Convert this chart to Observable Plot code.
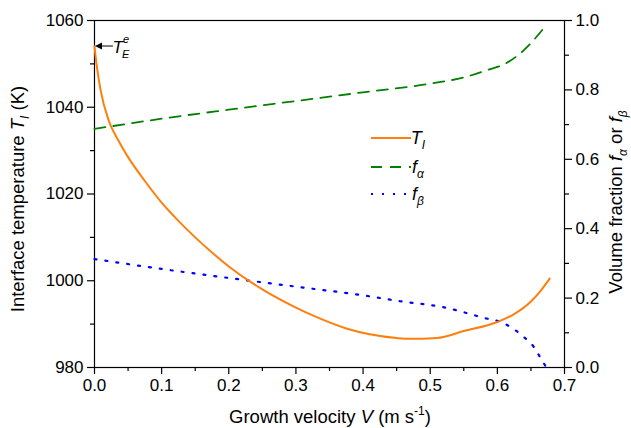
<!DOCTYPE html>
<html><head><meta charset="utf-8">
<script src="https://cdn.jsdelivr.net/npm/d3@7"></script>
<script src="https://cdn.jsdelivr.net/npm/@observablehq/plot@0.6"></script>
<style>
body{margin:0;background:#fff}
svg{font-family:"Liberation Sans",Arial,sans-serif}
</style>
</head><body><div id="chart"></div>
<script>
// Interface temperature T_I (K) vs growth velocity V (m/s)
const velocityT = [0, 0.003, 0.009, 0.021, 0.035, 0.05, 0.075, 0.1, 0.125, 0.15, 0.175, 0.2, 0.25, 0.3, 0.325, 0.375, 0.45, 0.47, 0.51, 0.55, 0.6, 0.625, 0.65, 0.665, 0.678];
const tempT     = [1054, 1050, 1044, 1037, 1032.5, 1028.5, 1023, 1018, 1013.8, 1010, 1006.5, 1003.3, 998, 993.8, 992, 989, 986.8, 986.6, 986.8, 988.4, 990.5, 992.3, 995.2, 997.8, 1000.5];
// Volume fraction f_alpha
const velocityA = [0, 0.1, 0.2, 0.3, 0.4, 0.5, 0.55, 0.586, 0.61, 0.634, 0.65, 0.668];
const fAlpha    = [0.6875, 0.717, 0.743, 0.768, 0.793, 0.818, 0.836, 0.858, 0.874, 0.905, 0.935, 0.975];
// Volume fraction f_beta
const velocityB = [0, 0.1, 0.2, 0.3, 0.4, 0.455, 0.519, 0.578, 0.61, 0.64, 0.654, 0.663, 0.673];
const fBeta     = [0.3125, 0.284, 0.258, 0.233, 0.208, 0.191, 0.174, 0.144, 0.127, 0.087, 0.06, 0.032, 0];
// Ticks
const xTicks = [0, 0.1, 0.2, 0.3, 0.4, 0.5, 0.6, 0.7];
const xMinor = [0.05, 0.15, 0.25, 0.35, 0.45, 0.55, 0.65];
const leftTicks = [980, 1000, 1020, 1040, 1060];
const leftMinor = [990, 1010, 1030, 1050];
const rightTicks = [0, 0.2, 0.4, 0.6, 0.8, 1.0];
const rightMinor = [0.1, 0.3, 0.5, 0.7, 0.9];
const eutecticT = 1054;

const T0 = 980, T1 = 1060;
const toLeft = f => T0 + f * (T1 - T0);
const fromLeft = t => (t - T0) / (T1 - T0);

const orange = "#ff7f0e", green = "#008000", blue = "#0000ff";

const plot = Plot.plot({
  width: 631, height: 428,
  marginLeft: 94, marginRight: 67, marginTop: 20, marginBottom: 61,
  style: {fontFamily: "Liberation Sans, Arial, sans-serif", fontSize: "17px", color: "#000", background: "#fff"},
  x: {domain: [0, 0.7]},
  y: {domain: [T0, T1]},
  marks: [
    Plot.frame({stroke: "#000", strokeWidth: 1.2}),
    Plot.axisX(xTicks, {anchor: "bottom", tickSize: 7, tickPadding: 4, strokeWidth: 1.2, tickFormat: d => d.toFixed(1), label: null, fontSize: 17}),
    Plot.axisX(xMinor, {anchor: "bottom", tickSize: 4, strokeWidth: 1.2, tickFormat: () => "", label: null}),
    Plot.axisY(leftTicks, {anchor: "left", tickSize: 7, tickPadding: 4, strokeWidth: 1.2, tickFormat: d => String(d), label: null, fontSize: 17}),
    Plot.axisY(leftMinor, {anchor: "left", tickSize: 4, strokeWidth: 1.2, tickFormat: () => "", label: null}),
    Plot.axisY(rightTicks.map(toLeft), {anchor: "right", tickSize: 7, tickPadding: 4, strokeWidth: 1.2, tickFormat: v => fromLeft(v).toFixed(1), label: null, fontSize: 17}),
    Plot.axisY(rightMinor.map(toLeft), {anchor: "right", tickSize: 4, strokeWidth: 1.2, tickFormat: () => "", label: null}),
    Plot.line(d3.range(velocityA.length), {x: i => velocityA[i], y: i => toLeft(fAlpha[i]), stroke: green, strokeWidth: 1.8, strokeDasharray: "11,8", curve: "monotone-x"}),
    Plot.line(d3.range(velocityB.length), {x: i => velocityB[i], y: i => toLeft(fBeta[i]), stroke: blue, strokeWidth: 2.2, strokeDasharray: "2,9", curve: "monotone-x"}),
    Plot.line(d3.range(velocityT.length), {x: i => velocityT[i], y: i => tempT[i], stroke: orange, strokeWidth: 2, curve: "monotone-x"})
  ]
});
document.getElementById("chart").appendChild(plot);

const svg = d3.select(plot);
const xs = plot.scale("x"), ys = plot.scale("y");
const FONT = "Liberation Sans, Arial, sans-serif";

function rich(g, parts, size) {
  const t = g.append("text").attr("font-family", FONT).attr("font-size", size).attr("fill", "#000");
  parts.forEach(p => {
    const s = t.append("tspan").text(p.t);
    if (p.i) s.attr("font-style", "italic");
    if (p.dy) s.attr("dy", p.dy);
    if (p.fs) s.attr("font-size", p.fs);
    if (p.dx) s.attr("dx", p.dx);
  });
  return t;
}

// X axis title
rich(svg.append("g").attr("transform", "translate(330,423)"), [
  {t: "Growth velocity "}, {t: "V", i: true}, {t: " (m s"}, {t: "-1", fs: 12, dy: -8}, {t: ")", dy: 8}
], 18.5).attr("text-anchor", "middle");

// Left axis title
rich(svg.append("g").attr("transform", "translate(24,199) rotate(-90)"), [
  {t: "Interface temperature "}, {t: "T", i: true}, {t: "I", i: true, fs: 12, dy: 5}, {t: " (K)", dy: -5}
], 18.5).attr("text-anchor", "middle");

// Right axis title
rich(svg.append("g").attr("transform", "translate(622,202) rotate(-90)"), [
  {t: "Volume fraction "}, {t: "f", i: true}, {t: "α", i: true, fs: 12, dy: 5}, {t: " or ", dy: -5}, {t: "f", i: true}, {t: "β", i: true, fs: 12, dy: 5}
], 18.5).attr("text-anchor", "middle");

// Eutectic temperature marker
const yE = ys.apply(eutecticT), x0 = xs.apply(0);
svg.append("line").attr("x1", x0 + 6).attr("x2", x0 + 19).attr("y1", yE).attr("y2", yE).attr("stroke", "#000").attr("stroke-width", 1);
svg.append("path").attr("d", `M${x0 + 1},${yE} L${x0 + 8},${yE - 3.5} L${x0 + 8},${yE + 3.5} Z`).attr("fill", "#000");
rich(svg.append("g").attr("transform", `translate(${x0 + 27},${yE + 7})`), [
  {t: "T", i: true}, {t: "e", i: true, fs: 11, dy: -10, dx: 0}, {t: "E", i: true, fs: 11, dy: 15, dx: -7}
], 17);

// Legend
const lg = svg.append("g").attr("transform", "translate(371,0)");
const items = [
  {y: 138, c: orange, dash: null, w: 2, parts: [{t: "T", i: true}, {t: "I", i: true, fs: 12, dy: 5}]},
  {y: 167, c: green, dash: "11,8", w: 1.8, parts: [{t: "f", i: true}, {t: "α", i: true, fs: 12, dy: 5}]},
  {y: 194, c: blue, dash: "2,9", w: 2.2, parts: [{t: "f", i: true}, {t: "β", i: true, fs: 12, dy: 5}]}
];
items.forEach(it => {
  const l = lg.append("line").attr("x1", 0).attr("x2", 40).attr("y1", it.y).attr("y2", it.y).attr("stroke", it.c).attr("stroke-width", it.w);
  if (it.dash) l.attr("stroke-dasharray", it.dash);
  rich(lg.append("g").attr("transform", `translate(47,${it.y + 6})`), it.parts, 18);
});
</script>
</body></html>
